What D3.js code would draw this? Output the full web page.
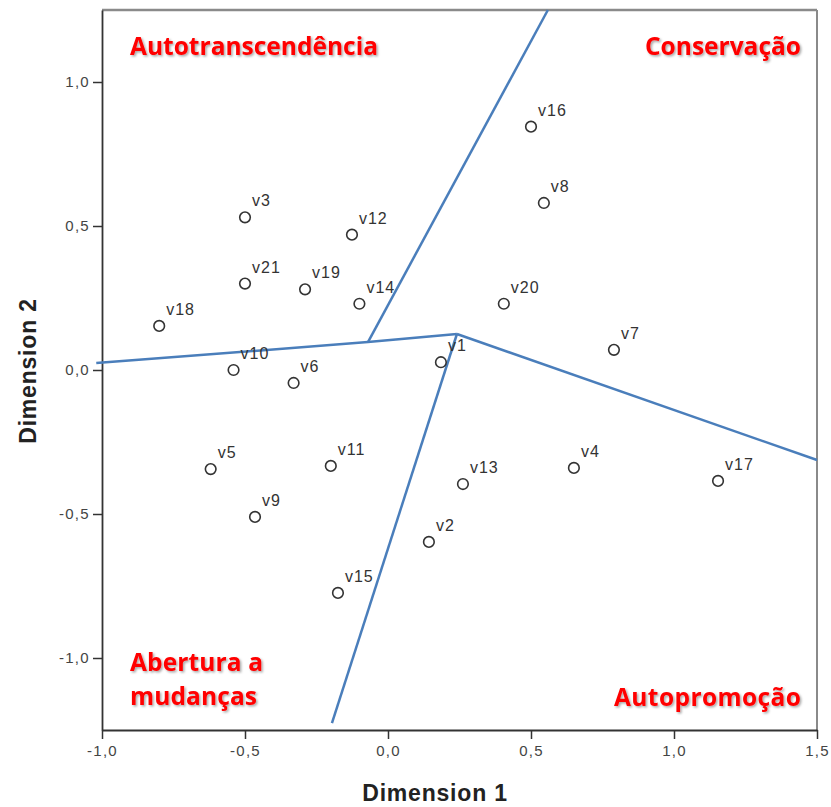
<!DOCTYPE html>
<html>
<head>
<meta charset="utf-8">
<script src="https://cdn.jsdelivr.net/npm/d3@7"></script>
<style>
body { margin: 0; background: #fff; }
</style>
</head>
<body>
<div id="chart"></div>
<script>
// points of the MDS plot
const names = ["v1","v2","v3","v4","v5","v6","v7","v8","v9","v10","v11","v12","v13","v14","v15","v16","v17","v18","v19","v20","v21"];
const dim1 = [0.185, 0.143, -0.50, 0.65, -0.62, -0.33, 0.79, 0.545, -0.465, -0.54, -0.20, -0.126, 0.262, -0.10, -0.175, 0.50, 1.154, -0.80, -0.29, 0.405, -0.50];
const dim2 = [0.027, -0.597, 0.53, -0.34, -0.344, -0.045, 0.07, 0.58, -0.51, 0.0, -0.333, 0.47, -0.396, 0.23, -0.774, 0.845, -0.385, 0.153, 0.28, 0.23, 0.30];

// region boundary lines
const lineLeft = [[-1.02, 0.024], [-0.07, 0.097], [0.241, 0.125]];
const lineTop = [[-0.07, 0.097], [0.559, 1.25]];
const lineRight = [[0.241, 0.125], [1.5, -0.3125]];
const lineBottom = [[0.241, 0.125], [-0.196, -1.226]];

const xTicks = [-1.0, -0.5, 0.0, 0.5, 1.0, 1.5];
const yTicks = [-1.0, -0.5, 0.0, 0.5, 1.0];

const W = 831, H = 807;
const pL = 102, pR = 817, pT = 10, pB = 730;

const svg = d3.select("#chart")
  .append("svg")
  .attr("width", W)
  .attr("height", H);

const defs = svg.append("defs");
const f = defs.append("filter").attr("id", "shadow")
  .attr("x", "-10%").attr("y", "-30%").attr("width", "120%").attr("height", "160%");
f.append("feDropShadow")
  .attr("dx", 1.5).attr("dy", 1.5).attr("stdDeviation", 1.2)
  .attr("flood-color", "#000").attr("flood-opacity", 0.35);

const x = d3.scaleLinear().domain([-1.0, 1.5]).range([pL, pR]);
const y = d3.scaleLinear().domain([-1.25, 1.25]).range([pB, pT]);

const loc = d3.formatLocale({decimal: ",", thousands: ".", grouping: [3], currency: ["", ""], minus: "-"});
const fmt = loc.format(".1f");

// frame: top and right in gray
svg.append("line")
  .attr("x1", pL).attr("x2", pR).attr("y1", pT).attr("y2", pT)
  .attr("stroke", "#8a8a8a").attr("stroke-width", 2.5);
svg.append("line")
  .attr("x1", pR).attr("x2", pR).attr("y1", pT).attr("y2", pB)
  .attr("stroke", "#8a8a8a").attr("stroke-width", 2);

// axes
const xAxis = svg.append("g")
  .attr("transform", "translate(0," + pB + ")")
  .call(d3.axisBottom(x).tickValues(xTicks).tickFormat(fmt).tickSize(9).tickSizeOuter(0));
const yAxis = svg.append("g")
  .attr("transform", "translate(" + pL + ",0)")
  .call(d3.axisLeft(y).tickValues(yTicks).tickFormat(fmt).tickSize(9).tickSizeOuter(0));

[xAxis, yAxis].forEach(g => {
  g.select(".domain").attr("stroke", "#333").attr("stroke-width", 1.8);
  g.selectAll(".tick line").attr("stroke", "#333").attr("stroke-width", 1.5);
  g.selectAll(".tick text")
    .attr("font-family", "Liberation Sans, Arial, sans-serif")
    .attr("font-size", 15)
    .attr("letter-spacing", 1.3)
    .attr("fill", "#444");
});
xAxis.selectAll(".tick text").attr("y", 15).attr("dy", "0.71em");
yAxis.selectAll(".tick text").attr("x", -12);

// axis titles
svg.append("text")
  .attr("x", 435).attr("y", 801)
  .attr("text-anchor", "middle")
  .attr("font-family", "Liberation Sans, Arial, sans-serif")
  .attr("font-weight", "bold")
  .attr("font-size", 23)
  .attr("letter-spacing", 0.8)
  .attr("fill", "#222")
  .text("Dimension 1");
svg.append("text")
  .attr("transform", "translate(36,371) rotate(-90)")
  .attr("text-anchor", "middle")
  .attr("font-family", "Liberation Sans, Arial, sans-serif")
  .attr("font-weight", "bold")
  .attr("font-size", 23)
  .attr("letter-spacing", 0.8)
  .attr("fill", "#222")
  .text("Dimension 2");

// boundary lines
const line = d3.line().x(d => x(d[0])).y(d => y(d[1]));
[lineLeft, lineTop, lineRight, lineBottom].forEach(pts => {
  svg.append("path")
    .attr("d", line(pts))
    .attr("fill", "none")
    .attr("stroke", "#4a7ebb")
    .attr("stroke-width", 2.5)
    .attr("stroke-linejoin", "round");
});

// points
const pts = names.map((n, i) => ({name: n, a: dim1[i], b: dim2[i]}));
const g = svg.append("g");
g.selectAll("circle")
  .data(pts)
  .enter()
  .append("circle")
  .attr("cx", d => x(d.a))
  .attr("cy", d => y(d.b))
  .attr("r", 5.3)
  .attr("fill", "none")
  .attr("stroke", "#333")
  .attr("stroke-width", 1.6);
g.selectAll("text")
  .data(pts)
  .enter()
  .append("text")
  .attr("x", d => x(d.a) + 7)
  .attr("y", d => y(d.b) - 11)
  .attr("font-family", "Liberation Sans, Arial, sans-serif")
  .attr("font-size", 16)
  .attr("letter-spacing", 1)
  .attr("fill", "#333")
  .text(d => d.name);

// region names
const regions = [
  {t: "Autotranscendência", px: 130, py: 55, w: 248, anchor: "start"},
  {t: "Conservação", px: 801, py: 55, w: 156, anchor: "end"},
  {t: "Abertura a", px: 130, py: 671, w: 133, anchor: "start"},
  {t: "mudanças", px: 130, py: 705, w: 127, anchor: "start"},
  {t: "Autopromoção", px: 801, py: 706, w: 187, anchor: "end"}
];
svg.append("g").selectAll("text")
  .data(regions)
  .enter()
  .append("text")
  .attr("x", d => d.px)
  .attr("y", d => d.py)
  .attr("text-anchor", d => d.anchor)
  .attr("textLength", d => d.w)
  .attr("lengthAdjust", "spacing")
  .attr("font-family", "Open Sans, Lato, sans-serif")
  .attr("font-weight", "bold")
  .attr("font-size", 24.5)
  .attr("fill", "#ff0000")
  .attr("filter", "url(#shadow)")
  .text(d => d.t);
</script>
</body>
</html>
